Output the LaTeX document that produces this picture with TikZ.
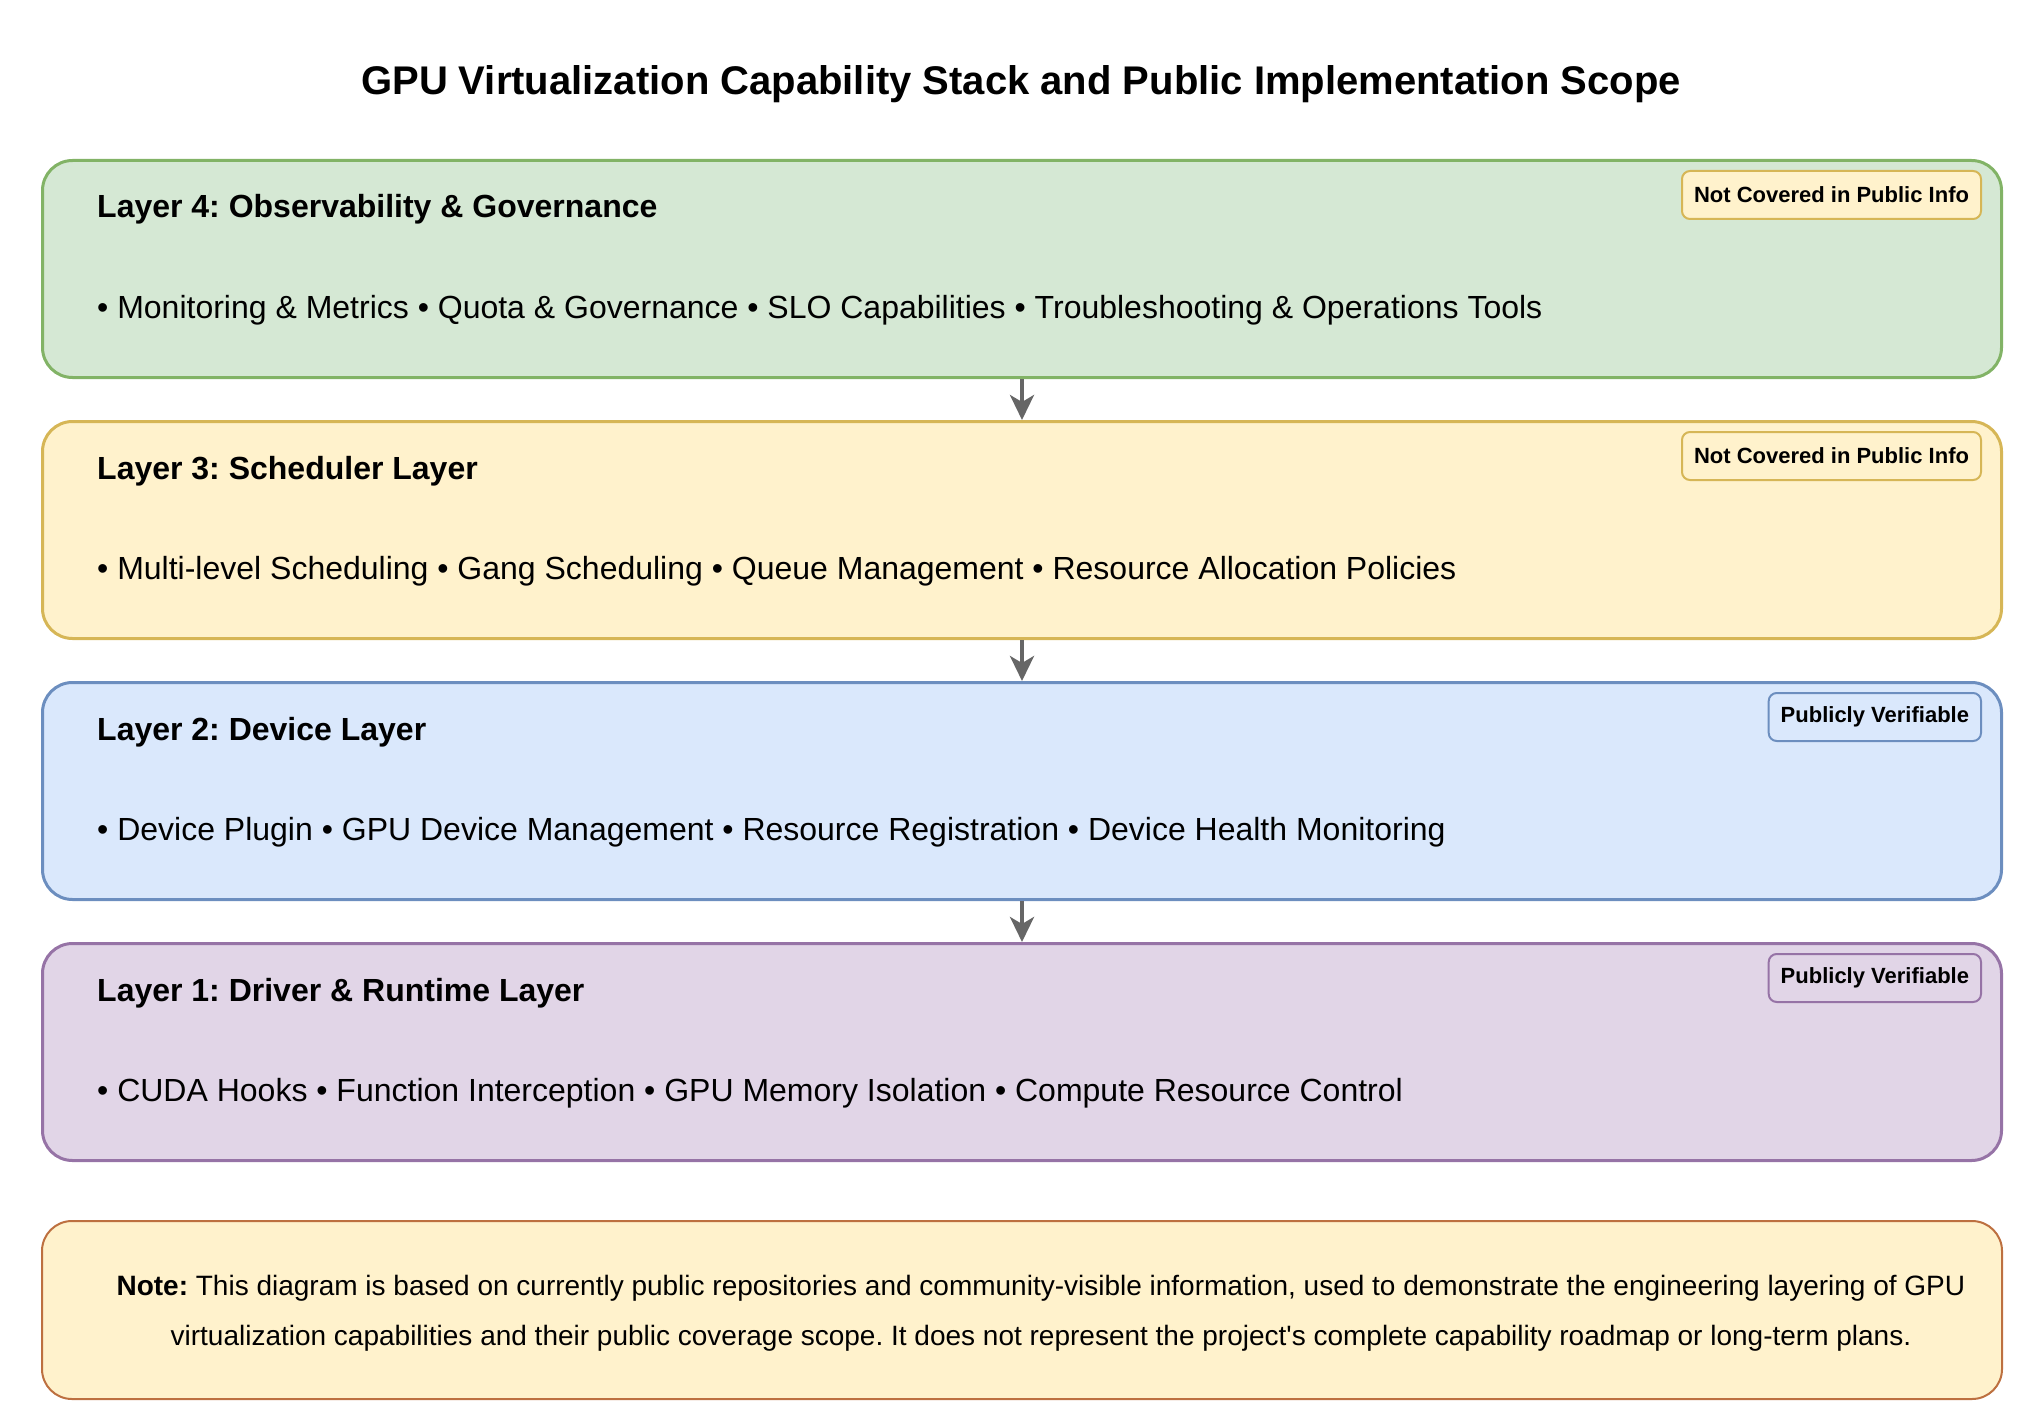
\documentclass[tikz,border=0pt]{standalone}
\usepackage{fontspec}
\setmainfont{Liberation Sans}
\usetikzlibrary{positioning}
\usetikzlibrary{calc}
\usetikzlibrary{arrows.meta}
\frenchspacing

\definecolor{obsfill}{HTML}{D5E8D4}
\definecolor{obsline}{HTML}{82B366}
\definecolor{schedfill}{HTML}{FFF2CC}
\definecolor{schedline}{HTML}{D6B656}
\definecolor{devfill}{HTML}{DAE8FC}
\definecolor{devline}{HTML}{6C8EBF}
\definecolor{drvfill}{HTML}{E1D5E7}
\definecolor{drvline}{HTML}{9673A6}
\definecolor{noteline}{HTML}{BD7040}
\definecolor{arrowgray}{HTML}{666666}

\begin{document}
\begin{tikzpicture}[x=1pt, y=-1pt,
        layer/.style={draw, rounded corners=30pt, line width=3pt, minimum width=1959pt, minimum height=217pt, inner sep=0pt},
        badge/.style={draw, rounded corners=8pt, line width=2pt, minimum height=48pt, inner xsep=12pt, inner ysep=0pt, anchor=north east, font=\fontsize{22}{26}\selectfont\bfseries},
        heading/.style={anchor=base west, inner sep=0pt, font=\fontsize{32}{38}\selectfont\bfseries},
        items/.style={anchor=base west, inner sep=0pt, font=\fontsize{32}{38}\selectfont},
        flow/.style={draw=arrowgray, line width=4pt, -{Stealth[length=25pt, width=24pt, inset=7pt]}}]
            \useasboundingbox (0,0) rectangle (2026,1423);

            \node[anchor=base, inner sep=0pt, font=\fontsize{40}{46}\selectfont\bfseries] (title) at (1021,95) {GPU Virtualization Capability Stack and Public Implementation Scope};

            % layers, top to bottom
            \node[layer, fill=obsfill, draw=obsline, anchor=north] (L4) at (1022,159) {};
            \node[layer, fill=schedfill, draw=schedline, below = 41pt of L4] (L3) {};
            \node[layer, fill=devfill, draw=devline, below = 41pt of L3] (L2) {};
            \node[layer, fill=drvfill, draw=drvline, below = 41pt of L2] (L1) {};
            \node[draw=noteline, fill=schedfill, rounded corners=30pt, line width=2pt, minimum width=1960pt, minimum height=178pt, inner sep=0pt, below = 58pt of L1] (note) {};

            \node[heading] (L4head) at ($(L4.north west)+(56,59)$) {Layer 4: Observability \& Governance};
            \node[items] (L4items) at ($(L4.north west)+(56,159)$) {• Monitoring \& Metrics • Quota \& Governance • SLO Capabilities • Troubleshooting \& Operations Tools};
            \node[badge, fill=schedfill, draw=schedline] (L4badge) at ($(L4.north east)+(-21,11)$) {Not Covered in Public Info};

            \node[heading] (L3head) at ($(L3.north west)+(56,59)$) {Layer 3: Scheduler Layer};
            \node[items] (L3items) at ($(L3.north west)+(56,159)$) {• Multi-level Scheduling • Gang Scheduling • Queue Management • Resource Allocation Policies};
            \node[badge, fill=schedfill, draw=schedline] (L3badge) at ($(L3.north east)+(-21,11)$) {Not Covered in Public Info};

            \node[heading] (L2head) at ($(L2.north west)+(56,59)$) {Layer 2: Device Layer};
            \node[items] (L2items) at ($(L2.north west)+(56,159)$) {• Device Plugin • GPU Device Management • Resource Registration • Device Health Monitoring};
            \node[badge, fill=devfill, draw=devline] (L2badge) at ($(L2.north east)+(-21,11)$) {Publicly Verifiable};

            \node[heading] (L1head) at ($(L1.north west)+(56,59)$) {Layer 1: Driver \& Runtime Layer};
            \node[items] (L1items) at ($(L1.north west)+(56,159)$) {• CUDA Hooks • Function Interception • GPU Memory Isolation • Compute Resource Control};
            \node[badge, fill=drvfill, draw=drvline] (L1badge) at ($(L1.north east)+(-21,11)$) {Publicly Verifiable};

            \node[align=center, inner sep=0pt, font=\fontsize{28}{50}\selectfont] (notetext) at ($(note.center)+(19,2.75)$) {\textbf{Note:} This diagram is based on currently public repositories and community-visible information, used to demonstrate the engineering layering of GPU\\virtualization capabilities and their public coverage scope. It does not represent the project\textquotesingle s complete capability roadmap or long-term plans.};

            \draw[flow] (L4) -- (L3);
            \draw[flow] (L3) -- (L2);
            \draw[flow] (L2) -- (L1);
        \end{tikzpicture}
\end{document}
